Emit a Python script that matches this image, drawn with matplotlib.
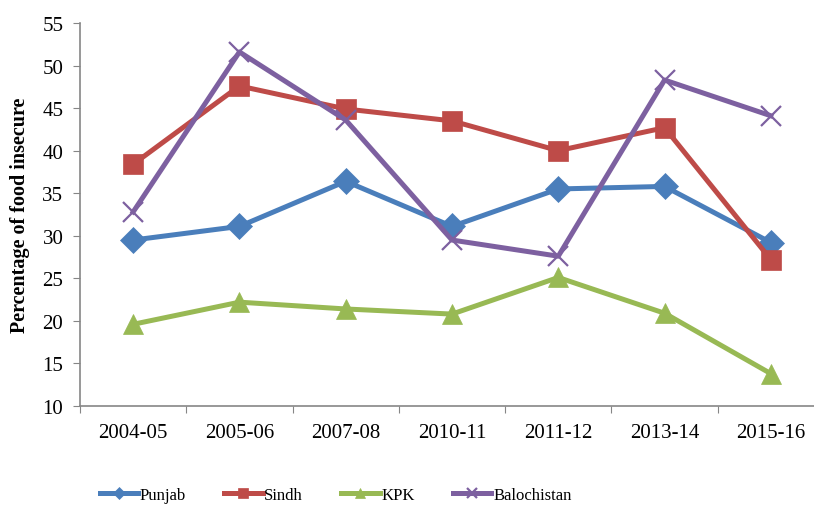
import numpy as np
import matplotlib.pyplot as plt

years = ['2004-05', '2005-06', '2007-08', '2010-11', '2011-12', '2013-14', '2015-16']
punjab = [29.5, 31.1, 36.4, 31.1, 35.5, 35.8, 29.2]
sindh = [38.4, 47.6, 44.9, 43.5, 40.0, 42.7, 27.2]
kpk = [19.6, 22.2, 21.4, 20.8, 25.1, 20.9, 13.8]
balochistan = [32.8, 51.6, 43.6, 29.5, 27.6, 48.3, 44.1]

plt.rcParams['font.family'] = ['Liberation Serif', 'DejaVu Serif']

fig = plt.figure(figsize=(8.14, 5.06), dpi=100)
ax = fig.add_axes([80 / 814, 99 / 506, 744 / 814, 383 / 506])

x = np.arange(len(years))
series = [
    ('Punjab', punjab, '#4A7EBB', 'D', 13),
    ('Sindh', sindh, '#BE4B48', 's', 14),
    ('KPK', kpk, '#98B954', '^', 14),
    ('Balochistan', balochistan, '#7D60A0', 'x', 15),
]
for name, vals, color, mk, ms in series:
    ax.plot(x, vals, color=color, lw=3.6, marker=mk, markersize=ms,
            markeredgewidth=1.6 if mk == 'x' else 0.5,
            markeredgecolor=color, label=name, clip_on=False)

ax.set_xlim(-0.5, 6.5)
ax.set_ylim(10, 55)
ax.set_yticks(range(10, 56, 5))
ax.set_xticks(np.arange(-0.5, 7, 1), minor=False)
ax.set_xticklabels([])
ax.set_xticks(x, minor=True)
ax.set_xticklabels(years, minor=True, fontsize=15)
ax.tick_params(axis='x', which='minor', length=0, pad=12)
ax.tick_params(axis='x', which='major', length=5, direction='out', color='#868686')
ax.tick_params(axis='y', labelsize=15, length=5, direction='out', color='#868686', pad=7)

for s in ['top', 'right']:
    ax.spines[s].set_visible(False)
for s in ['left', 'bottom']:
    ax.spines[s].set_color('#868686')
    ax.spines[s].set_linewidth(1.2)

ax.set_ylabel('Percentage of food insecure', fontsize=14.5, fontweight='bold', labelpad=9)

leg = fig.legend(loc='lower left', bbox_to_anchor=(0.104, -0.025), ncol=4, frameon=False,
                 fontsize=12, handlelength=2.3, columnspacing=2.3, handletextpad=0.1,
                 markerscale=0.5)

fig.savefig('out.png', dpi=100)
